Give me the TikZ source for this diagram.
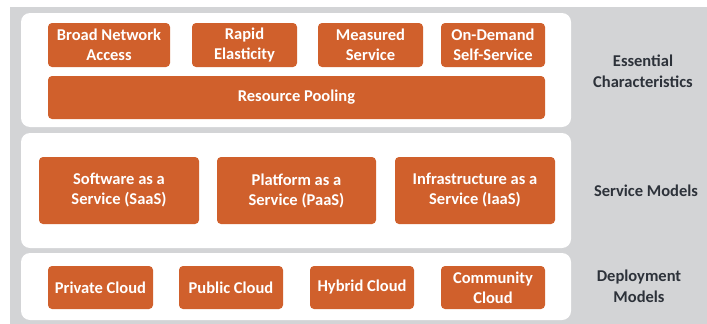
\documentclass[tikz,border=0pt]{standalone}
\usepackage{fontspec}
\setmainfont{Carlito}
\definecolor{bggray}{RGB}{211,212,214}
\definecolor{orng}{RGB}{208,96,44}
\definecolor{lbl}{RGB}{45,50,58}
\begin{document}
\begin{tikzpicture}[x=1pt,y=-1pt,
  panel/.style={fill=white,draw=none,rounded corners=9pt},
  obox/.style={fill=orng,draw=none,rounded corners=4pt,text=white,font=\fontsize{16.5}{20}\selectfont\bfseries,align=center,inner sep=0pt},
  sidelbl/.style={text=lbl,font=\fontsize{16.5}{21}\selectfont\bfseries,align=center}]
\useasboundingbox (0,0) rectangle (707,324);
\fill[white] (0,0) rectangle (707,324);
\fill[bggray] (10,7) rectangle (707,324);
% panels
\path[panel] (21,13) rectangle (571,127);
\path[panel] (21,133) rectangle (571,248);
\path[panel] (21,253) rectangle (571,320);
% essential characteristics
\node[obox,minimum width=122pt,minimum height=44pt] (bna) at (109,45) {Broad Network\\Access};
\node[obox,minimum width=105pt,minimum height=44pt] (re) at (244.5,45) {Rapid\\Elasticity};
\node[obox,minimum width=105pt,minimum height=44pt] (ms) at (370.5,45) {Measured\\Service};
\node[obox,minimum width=104pt,minimum height=44pt] (ods) at (493,45) {On-Demand\\Self-Service};
\node[obox,minimum width=497pt,minimum height=43pt] (rp) at (296.5,97.5) {Resource Pooling};
% service models
\node[obox,minimum width=160pt,minimum height=67pt] (saas) at (119,190.5) {Software as a\\Service (SaaS)};
\node[obox,minimum width=159pt,minimum height=67pt] (paas) at (296.5,190.5) {Platform as a\\Service (PaaS)};
\node[obox,minimum width=160pt,minimum height=67pt] (iaas) at (475,190.5) {Infrastructure as a\\Service (IaaS)};
% deployment models
\node[obox,minimum width=105pt,minimum height=43pt] (priv) at (100.5,287.5) {Private Cloud};
\node[obox,minimum width=104pt,minimum height=43pt] (pub) at (231,287.5) {Public Cloud};
\node[obox,minimum width=104pt,minimum height=43pt] (hyb) at (362,287.5) {Hybrid Cloud};
\node[obox,minimum width=104pt,minimum height=43pt] (comm) at (493,287.5) {Community\\Cloud};
% side labels
\node[sidelbl] (ec) at (643,71) {Essential\\Characteristics};
\node[sidelbl] (sm) at (646,191) {Service Models};
\node[sidelbl] (dm) at (639,286) {Deployment\\Models};
\end{tikzpicture}
\end{document}
